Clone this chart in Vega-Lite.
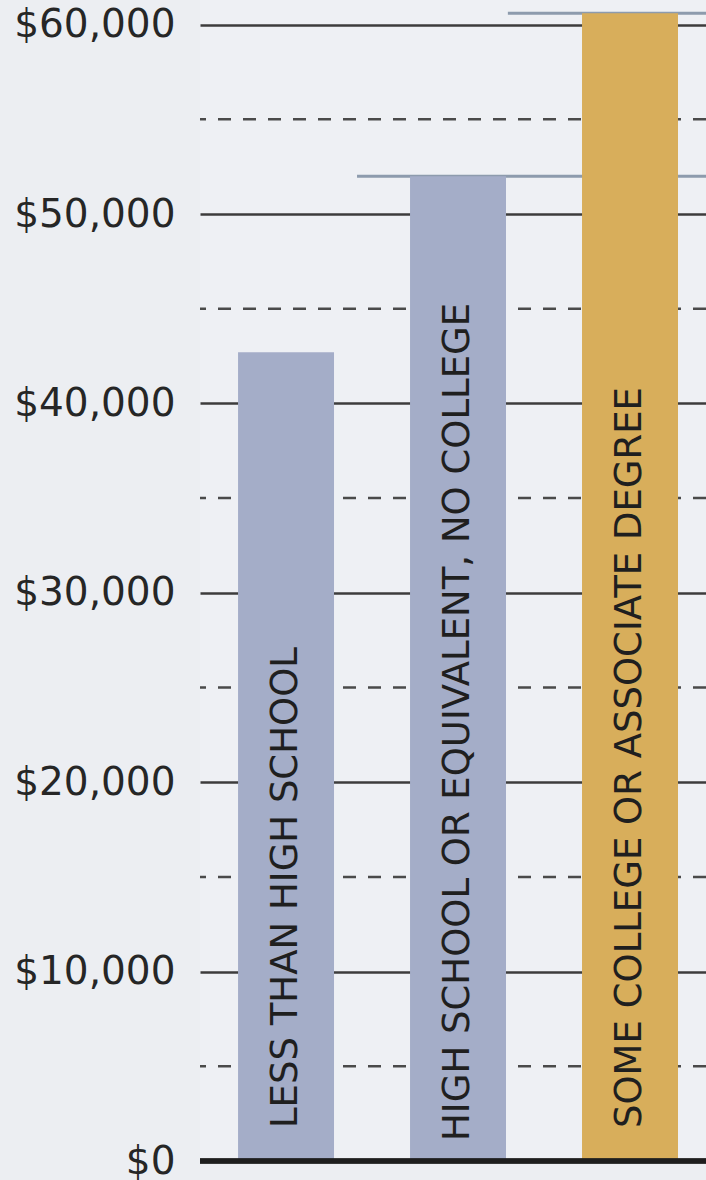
{
  "$schema": "https://vega.github.io/schema/vega-lite/v6.json",
  "autosize": "none",
  "width": 506,
  "height": 1161,
  "padding": {"left": 200, "top": 0, "right": 0, "bottom": 19},
  "background": "#eceef2",
  "config": {
    "view": {"stroke": null, "fill": "#eef0f4"},
    "font": "DejaVu Sans"
  },
  "datasets": {
    "bars": [
      {"edu": "LESS THAN HIGH SCHOOL", "earn": 42700, "group": "other"},
      {"edu": "HIGH SCHOOL OR EQUIVALENT, NO COLLEGE", "earn": 52000, "group": "other"},
      {"edu": "SOME COLLEGE OR ASSOCIATE DEGREE", "earn": 60600, "group": "highlight"}
    ],
    "minor": [{"v": 5000}, {"v": 15000}, {"v": 25000}, {"v": 35000}, {"v": 45000}, {"v": 55000}],
    "refs": [
      {"start": 0.913, "end": 2.942, "earn": 52000},
      {"start": 1.79, "end": 2.942, "earn": 60600}
    ]
  },
  "resolve": {"scale": {"x": "independent"}},
  "layer": [
    {
      "data": {"name": "minor"},
      "mark": {"type": "rule", "color": "#4a4a4a", "strokeWidth": 2.5, "strokeDash": [13, 12]},
      "encoding": {
        "y": {"field": "v", "type": "quantitative", "scale": {"domain": [0, 61300], "nice": false},
          "axis": {"values": [0, 10000, 20000, 30000, 40000, 50000, 60000], "format": "$,.0f",
            "title": null, "domain": false, "ticks": false, "labelPadding": 25,
            "labelFontSize": 39, "labelFont": "DejaVu Sans", "labelColor": "#262626",
            "grid": true, "gridColor": "#3c3c3c", "gridWidth": 2.5}}
      }
    },
    {
      "data": {"name": "refs"},
      "mark": {"type": "rule", "color": "#8d9bad", "strokeWidth": 3},
      "encoding": {
        "x": {"field": "start", "type": "quantitative", "scale": {"domain": [0, 2.942], "nice": false, "zero": false}, "axis": null},
        "x2": {"field": "end"},
        "y": {"field": "earn", "type": "quantitative"}
      }
    },
    {
      "layer": [
        {
          "data": {"name": "bars"},
          "mark": {"type": "bar"},
          "encoding": {
            "x": {"field": "edu", "type": "nominal", "sort": null,
              "scale": {"paddingInner": 0.442, "paddingOuter": 0.192, "align": 0.576},
              "axis": null},
            "y": {"field": "earn", "type": "quantitative"},
            "color": {"field": "group", "type": "nominal",
              "scale": {"domain": ["other", "highlight"], "range": ["#a4adc8", "#d8ae5b"]}, "legend": null}
          }
        },
        {
          "data": {"name": "bars"},
          "mark": {"type": "rule", "color": "#1e1e1e", "strokeWidth": 5},
          "encoding": {"y": {"datum": 0}}
        },
        {
          "data": {"name": "bars"},
          "transform": [{"filter": "datum.edu !== 'HIGH SCHOOL OR EQUIVALENT, NO COLLEGE'"}],
          "mark": {"type": "text", "angle": 270, "align": "left", "baseline": "middle", "dx": 33,
            "fontSize": 37, "font": "DejaVu Sans", "color": "#1f1f1f"},
          "encoding": {
            "x": {"field": "edu", "type": "nominal", "sort": null},
            "y": {"datum": 0},
            "text": {"field": "edu"}
          }
        },
        {
          "data": {"name": "bars"},
          "transform": [{"filter": "datum.edu === 'HIGH SCHOOL OR EQUIVALENT, NO COLLEGE'"}],
          "mark": {"type": "text", "angle": 270, "align": "left", "baseline": "middle", "dx": 20,
            "fontSize": 37, "font": "DejaVu Sans", "color": "#1f1f1f"},
          "encoding": {
            "x": {"field": "edu", "type": "nominal", "sort": null},
            "y": {"datum": 0},
            "text": {"field": "edu"}
          }
        }
      ]
    }
  ]
}
